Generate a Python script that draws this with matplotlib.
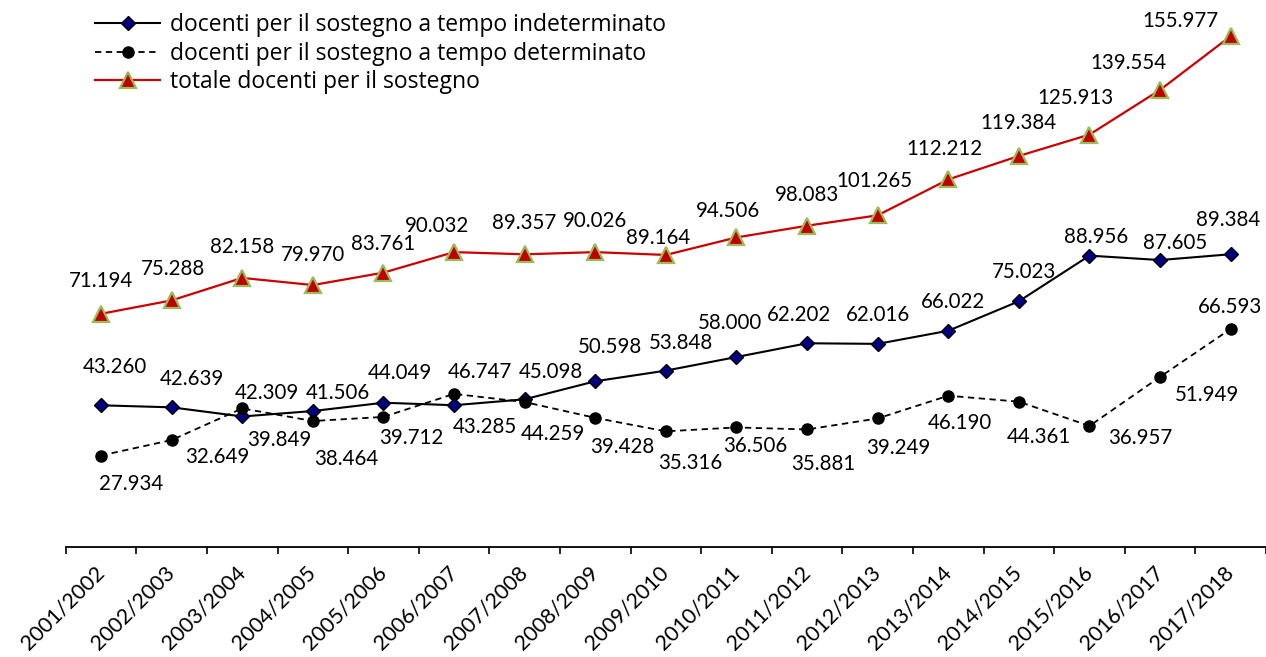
import matplotlib
matplotlib.use("Agg")
import matplotlib.pyplot as plt
from matplotlib.ticker import FixedLocator

# ---- data ----
anni = ["2001/2002", "2002/2003", "2003/2004", "2004/2005", "2005/2006", "2006/2007",
        "2007/2008", "2008/2009", "2009/2010", "2010/2011", "2011/2012", "2012/2013",
        "2013/2014", "2014/2015", "2015/2016", "2016/2017", "2017/2018"]
indeterminato = [43.260, 42.639, 39.849, 41.506, 44.049, 43.285, 45.098, 50.598, 53.848,
                 58.000, 62.202, 62.016, 66.022, 75.023, 88.956, 87.605, 89.384]
determinato = [27.934, 32.649, 42.309, 38.464, 39.712, 46.747, 44.259, 39.428, 35.316,
               36.506, 35.881, 39.249, 46.190, 44.361, 36.957, 51.949, 66.593]
totale = [71.194, 75.288, 82.158, 79.970, 83.761, 90.032, 89.357, 90.026, 89.164,
          94.506, 98.083, 101.265, 112.212, 119.384, 125.913, 139.554, 155.977]

nomi = ["docenti per il sostegno a tempo indeterminato",
        "docenti per il sostegno a tempo determinato",
        "totale docenti per il sostegno"]

# label offsets in pixels (dx right, dy down) – styling only
off_ind = [(14, -38), (20, -28), (37, 24), (25, -18), (16, -30), (31, 22), (26, -27),
           (15, -34), (15, -28), (-6, -34), (-8, -28), (0, -29), (5, -29), (5, -29),
           (7, -19), (15, -17), (-3, -34)]
off_det = [(30, 28), (46, 17), (25, -15), (33, 38), (28, 21), (26, -22), (28, 32),
           (27, 29), (24, 32), (19, 19), (16, 35), (21, 30), (12, 27), (20, 35),
           (51, 12), (47, 18), (-1, -22)]
off_tot = [(0, -33), (1, -31), (0, -31), (0, -30), (0, -29), (-17, -26), (-1, -31),
           (0, -31), (-8, -17), (-8, -26), (0, -31), (-3, -34), (-4, -30), (0, -33),
           (-14, -37), (-32, -27), (-50, -15)]

FONT = "Lato"
FS = 14.8
plt.rcParams["font.family"] = [FONT, "DejaVu Sans"]

W, H = 1266, 657
fig = plt.figure(figsize=(W / 100, H / 100), dpi=100)
left_px, bottom_px = 65.7, 547
ax = fig.add_axes([left_px / W, (H - bottom_px) / H, (W - left_px) / W, bottom_px / H])

x = list(range(len(anni)))

l1, = ax.plot(x, indeterminato, color="black", lw=1.5, marker="D", markersize=7.2,
              markerfacecolor="#000080", markeredgecolor="black", markeredgewidth=1.0,
              zorder=3)
l2, = ax.plot(x, determinato, color="black", lw=1.3, ls=(0, (3.5, 2.5)), marker="o",
              markersize=8, markerfacecolor="black", markeredgecolor="black", zorder=4)
l3, = ax.plot(x, totale, color="#CC0000", lw=1.6, marker="^", markersize=11.5,
              markerfacecolor="#C00000", markeredgecolor="#9BBB59", markeredgewidth=1.6,
              zorder=5)

def fmt(v):
    return f"{v:.3f}"

for vals, offs in ((indeterminato, off_ind), (determinato, off_det), (totale, off_tot)):
    for xi, v, (dx, dy) in zip(x, vals, offs):
        ax.annotate(fmt(v), (xi, v), xytext=(dx, -dy), textcoords="offset pixels",
                    ha="center", va="center", fontsize=FS, color="black",
                    annotation_clip=False, zorder=6)

ax.set_xlim(-0.5, len(anni) - 0.5)
ax.set_ylim(0, 167)

for s in ("left", "right", "top"):
    ax.spines[s].set_visible(False)
ax.spines["bottom"].set_linewidth(1.3)
ax.yaxis.set_visible(False)

ax.set_xticks(x)
ax.set_xticklabels(anni, rotation=45, ha="right", va="center", rotation_mode="anchor",
                   fontsize=15.5)
ax.xaxis.set_minor_locator(FixedLocator([i - 0.5 for i in range(len(anni) + 1)]))
ax.tick_params(axis="x", which="major", length=0, pad=16)
ax.tick_params(axis="x", which="minor", length=5, width=1.2, direction="out")

leg = fig.legend([l1, l2, l3], nomi, loc="upper left",
                 bbox_to_anchor=(95 / W, 1 - 13 / H), bbox_transform=fig.transFigure,
                 frameon=False, prop={"family": ["Open Sans", "DejaVu Sans"], "size": 16.5},
                 handlelength=2.84, handletextpad=0.42,
                 borderpad=0, borderaxespad=0, labelspacing=0.2)

fig.savefig("out.png", dpi=100)
